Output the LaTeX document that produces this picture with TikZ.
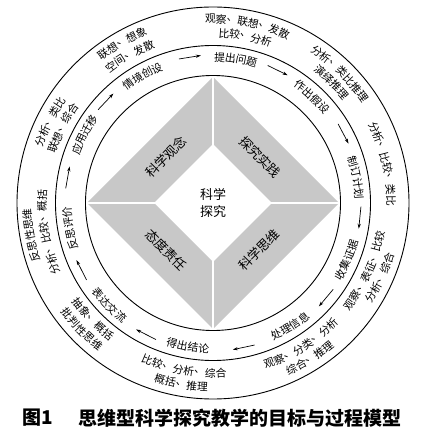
\documentclass[tikz,border=0pt]{standalone}
\usepackage{fontspec}
\newfontfamily\cjk{Noto Sans CJK SC}
\usetikzlibrary{arrows.meta}
\definecolor{diagray}{RGB}{200,200,200}
\tikzset{
  ringline/.style={draw=black, line width=0.9pt},
  ringchar/.style={inner sep=0pt, font=\cjk\fontsize{10.8}{12}\selectfont},
  flowarrow/.style={draw=black, line width=0.7pt, -{Stealth[length=5pt,width=3.2pt]}},
  corelabel/.style={inner sep=0pt, font=\cjk\fontsize{13}{17}\selectfont, align=center},
  captext/.style={inner sep=0pt, font=\cjk\bfseries\fontsize{19}{22}\selectfont}
}
% #1 name, #2 radius, #3 centre angle, #4 +1 clockwise (tops out) / -1 ccw (tops in), #5 count, #6 chars
\newcommand\arctext[6]{%
  \pgfmathsetmacro\arcstep{10.8/#2*57.29578}%
  \foreach \ch [count=\i] in {#6} {%
    \pgfmathsetmacro\arcang{#3 + #4*((#5+1)/2 - \i)*\arcstep}%
    \pgfmathsetmacro\arcrot{\arcang - #4*90}%
    \node[ringchar, rotate=\arcrot] (#1-\i) at (\arcang:#2) {\ch};%
  }%
}
\newcommand\ringarrow[2]{%
  \coordinate (#1s) at ({#2+4.3}:148);
  \coordinate (#1e) at ({#2-4.3}:148);
  \draw[flowarrow] (#1s) -- (#1e);
}
\begin{document}
\begin{tikzpicture}[x=1pt,y=1pt]
\useasboundingbox (-213,-235) rectangle (213,203);
% central diamond
\fill[diagray, even odd rule] (0,126) -- (126,0) -- (0,-126) -- (-126,0) -- cycle
  (0,59) -- (59,0) -- (0,-59) -- (-59,0) -- cycle;
\draw[white, line width=1.8pt] (0,58) -- (0,128) (0,-58) -- (0,-128) (58,0) -- (128,0) (-58,0) -- (-128,0);
% circles
\draw[ringline] (0,0) circle[radius=127.5];
\draw[ringline] (0,0) circle[radius=157.5];
\draw[ringline] (0,0) circle[radius=196];
% core labels
\node[corelabel] (core) at (0,0) {科学\\探究};
\node[corelabel, rotate=45] (gn) at (-47,46) {科学观念};
\node[corelabel, rotate=-45] (tj) at (47,46) {探究实践};
\node[corelabel, rotate=-45] (td) at (-47,-47) {态度责任};
\node[corelabel, rotate=45] (kx) at (46,-47) {科学思维};
% process steps (middle ring)
\arctext{s1}{146}{81}{1}{4}{提,出,问,题}
\arctext{s2}{146}{47}{1}{4}{作,出,假,设}
\arctext{s3}{146}{10}{1}{4}{制,订,计,划}
\arctext{s4}{146}{-23}{-1}{4}{收,集,证,据}
\arctext{s5}{146}{-58}{-1}{4}{处,理,信,息}
\arctext{s6}{146}{-100}{-1}{4}{得,出,结,论}
\arctext{s7}{146}{-135.5}{-1}{4}{表,达,交,流}
\arctext{s8}{146}{190}{1}{4}{反,思,评,价}
\arctext{s9}{146}{152}{1}{4}{应,用,迁,移}
\arctext{s10}{146}{119}{1}{4}{情,境,创,设}
% arrows
\ringarrow{a1}{99}
\ringarrow{a2}{64}
\ringarrow{a3}{28}
\ringarrow{a4}{-5.7}
\ringarrow{a5}{-40}
\ringarrow{a6}{-78}
\ringarrow{a7}{-117}
\ringarrow{a8}{-153}
\ringarrow{a9}{170}
\ringarrow{a10}{136.6}
% thinking methods (outer ring)
\arctext{m1a}{184}{79}{1}{8}{观,察,、,联,想,、,发,散}
\arctext{m1b}{170}{79}{1}{5}{比,较,、,分,析}
\arctext{m2a}{184}{45.5}{1}{7}{分,析,、,类,比,推,理}
\arctext{m2b}{170}{45.5}{1}{4}{演,绎,推,理}
\arctext{m3}{178}{13}{1}{8}{分,析,、,比,较,、,类,比}
\arctext{m4a}{170}{-24}{-1}{8}{观,察,、,表,征,、,比,较}
\arctext{m4b}{184}{-24}{-1}{5}{分,析,、,综,合}
\arctext{m5a}{170}{-58}{-1}{8}{观,察,、,分,类,、,分,析}
\arctext{m5b}{184}{-58}{-1}{5}{综,合,、,推,理}
\arctext{m6a}{170}{-100}{-1}{8}{比,较,、,分,析,、,综,合}
\arctext{m6b}{184}{-100}{-1}{5}{概,括,、,推,理}
\arctext{m7a}{168}{-136}{-1}{5}{抽,象,、,概,括}
\arctext{m7b}{183}{-136}{-1}{5}{批,判,性,思,维}
\arctext{m8a}{186}{190}{1}{5}{反,思,性,思,维}
\arctext{m8b}{171}{190}{1}{8}{分,析,、,比,较,、,概,括}
\arctext{m9a}{183}{153.5}{1}{5}{分,析,、,类,比}
\arctext{m9b}{169}{153.5}{1}{5}{联,想,、,综,合}
\arctext{m10a}{185}{119.5}{1}{5}{联,想,、,想,象}
\arctext{m10b}{170}{119.5}{1}{5}{空,间,、,发,散}
% caption
\node[captext] (fig) at (-175,-215) {图1};
\node[captext] (cap) at (27,-215) {思维型科学探究教学的目标与过程模型};
\end{tikzpicture}
\end{document}
